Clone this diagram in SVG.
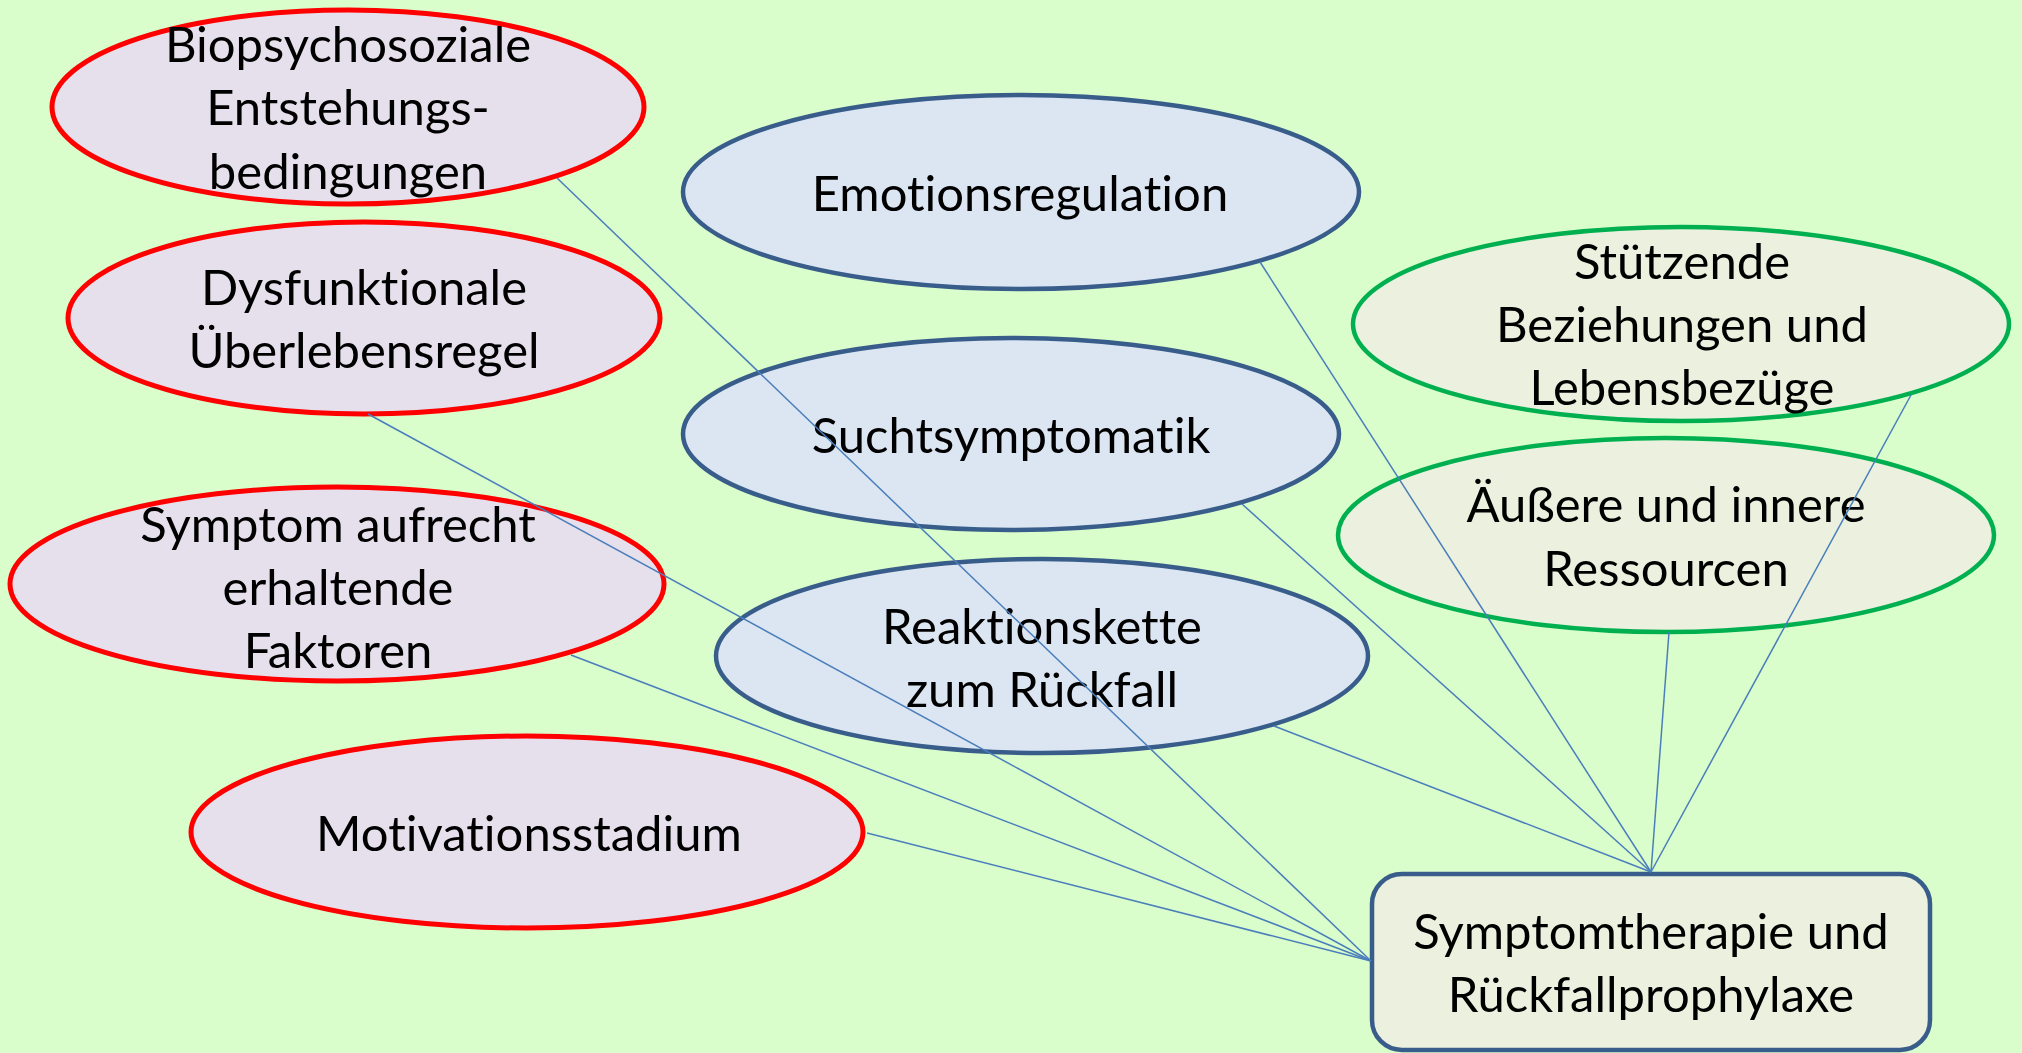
<svg xmlns="http://www.w3.org/2000/svg" width="2022" height="1053" viewBox="0 0 2022 1053">
  <style>
    .red { fill: #E6E0EC; stroke: #FF0000; stroke-width: 5; }
    .blue { fill: #DCE6F2; stroke: #385D8A; stroke-width: 4.5; }
    .green { fill: #EBF1DE; stroke: #00B050; stroke-width: 4.5; }
    .box { fill: #EBF1DE; stroke: #385D8A; stroke-width: 4.5; }
    .lbl { font-family: Lato, "Open Sans", "Liberation Sans", sans-serif; font-size: 49px; fill: #000; text-anchor: middle; font-variant-ligatures: none; }
    .link { stroke: #4A7EBB; stroke-width: 1.5; fill: none; }
  </style>

  <rect x="0" y="0" width="2022" height="1053" fill="#DAFDCC"/>

  <!-- problem-side factors (red) -->
  <g id="biopsychosoziale">
    <ellipse class="red" cx="348" cy="107" rx="296" ry="97"/>
    <text class="lbl"><tspan x="348" y="62">Biopsychosoziale</tspan><tspan x="348" y="125">Entstehungs-</tspan><tspan x="348" y="189">bedingungen</tspan></text>
  </g>
  <g id="dysfunktionale">
    <ellipse class="red" cx="364" cy="318" rx="296" ry="96"/>
    <text class="lbl"><tspan x="364" y="305">Dysfunktionale</tspan><tspan x="364" y="368">Überlebensregel</tspan></text>
  </g>
  <g id="symptom-aufrecht">
    <ellipse class="red" cx="337" cy="584" rx="327" ry="97"/>
    <text class="lbl"><tspan x="338" y="542">Symptom aufrecht</tspan><tspan x="338" y="605">erhaltende</tspan><tspan x="338" y="668">Faktoren</tspan></text>
  </g>
  <g id="motivationsstadium">
    <ellipse class="red" cx="527" cy="832" rx="336" ry="96"/>
    <text class="lbl" x="529" y="851">Motivationsstadium</text>
  </g>

  <!-- symptom-side topics (blue) -->
  <g id="emotionsregulation">
    <ellipse class="blue" cx="1021" cy="192" rx="338" ry="97"/>
    <text class="lbl" x="1020" y="211">Emotionsregulation</text>
  </g>
  <g id="suchtsymptomatik">
    <ellipse class="blue" cx="1011" cy="434" rx="328" ry="96"/>
    <text class="lbl" x="1011" y="453">Suchtsymptomatik</text>
  </g>
  <g id="reaktionskette">
    <ellipse class="blue" cx="1042" cy="656" rx="326" ry="97"/>
    <text class="lbl"><tspan x="1042" y="644">Reaktionskette</tspan><tspan x="1042" y="707">zum Rückfall</tspan></text>
  </g>

  <!-- resources (green) -->
  <g id="stuetzende-beziehungen">
    <ellipse class="green" cx="1681" cy="324" rx="328" ry="97"/>
    <text class="lbl"><tspan x="1682" y="279">Stützende</tspan><tspan x="1682" y="342">Beziehungen und</tspan><tspan x="1682" y="405">Lebensbezüge</tspan></text>
  </g>
  <g id="ressourcen">
    <ellipse class="green" cx="1666" cy="535" rx="328" ry="97"/>
    <text class="lbl"><tspan x="1666" y="522">Äußere und innere</tspan><tspan x="1666" y="586">Ressourcen</tspan></text>
  </g>

  <!-- central target -->
  <g id="symptomtherapie">
    <rect class="box" x="1372" y="874" width="558" height="176" rx="30" ry="30"/>
    <text class="lbl"><tspan x="1651" y="949">Symptomtherapie und</tspan><tspan x="1651" y="1012">Rückfallprophylaxe</tspan></text>
  </g>

  <!-- connectors: left group meets the box's left side, right group its top -->
  <g id="connectors">
    <line class="link" x1="557" y1="178" x2="1371" y2="961"/>
    <line class="link" x1="368" y1="414" x2="1371" y2="961"/>
    <line class="link" x1="571" y1="655" x2="1371" y2="961"/>
    <line class="link" x1="867" y1="833" x2="1371" y2="961"/>
    <line class="link" x1="1260" y1="262" x2="1651" y2="872"/>
    <line class="link" x1="1242" y1="504" x2="1651" y2="872"/>
    <line class="link" x1="1274" y1="726" x2="1651" y2="872"/>
    <line class="link" x1="1669" y1="632" x2="1651" y2="872"/>
    <line class="link" x1="1911" y1="395" x2="1651" y2="872"/>
  </g>
</svg>
